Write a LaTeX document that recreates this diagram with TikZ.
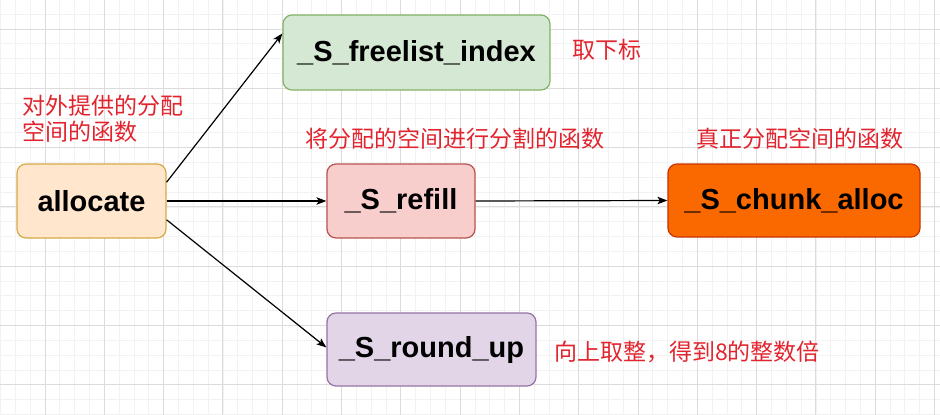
\documentclass[tikz,border=0pt]{standalone}
\usepackage{fontspec}
\setmainfont{Liberation Sans}
\newfontfamily\cjk{Noto Sans CJK SC}
\usepackage{tikz}
\usetikzlibrary{shapes,positioning,calc}
\usetikzlibrary{arrows.meta}
\definecolor{notered}{RGB}{226,36,46}
\definecolor{gridmajor}{RGB}{220,220,220}
\definecolor{gridminor}{RGB}{242,242,242}

\begin{document}
\begin{tikzpicture}[x=1pt, y=-1pt, >={Stealth[length=10pt, width=7.5pt, inset=2.5pt]},
	func/.style={rectangle, rounded corners=9pt, draw, line width=1.2pt, align=center, font=\bfseries\fontsize{29}{34}\selectfont},
	note/.style={text=notered, inner sep=0pt, font=\cjk\fontsize{23}{26}\selectfont}]
				% Background grid

				\useasboundingbox (0,0) rectangle (940,415);
				\fill[white] (0,0) rectangle (940,415);
				\foreach \i in {-3,...,60} \draw[gridminor, line width=0.8pt] ({45+14.825*\i},0) -- ++(0,415);
				\foreach \i in {-2,...,26} \draw[gridminor, line width=0.8pt] (0,{29+14.825*\i}) -- ++(940,0);
				\foreach \i in {0,...,15} \draw[gridmajor, line width=0.9pt] ({45+59.3*\i},0) -- ++(0,415);
				\foreach \i in {0,...,6} \draw[gridmajor, line width=0.9pt] (0,{29+59.3*\i}) -- ++(940,0);

				% Nodes

				\node [func, fill={rgb,255:red,255;green,230;blue,204}, draw={rgb,255:red,214;green,170;blue,70}, minimum width=149pt, minimum height=74pt] (alloc) at (91.5,201) {allocate};
				\node [func, fill={rgb,255:red,213;green,232;blue,212}, draw={rgb,255:red,130;green,179;blue,102}, minimum width=267pt, minimum height=75pt] (idx) at (416.5,52.5) {\_S\_freelist\_index};
				\node [func, fill={rgb,255:red,248;green,206;blue,204}, draw={rgb,255:red,184;green,84;blue,80}, minimum width=148pt, minimum height=74pt] (refill) at (401,201) {\_S\_refill};
				\node [func, fill={rgb,255:red,250;green,104;blue,0}, draw={rgb,255:red,199;green,53;blue,0}, minimum width=252pt, minimum height=73pt] (chunk) at (794,200.5) {\_S\_chunk\_alloc};
				\node [func, fill={rgb,255:red,225;green,213;blue,231}, draw={rgb,255:red,150;green,115;blue,166}, minimum width=209pt, minimum height=73pt] (round) at (431.5,349.5) {\_S\_round\_up};

				% Notes

				\node [note, anchor=west, align=left] (t0) at (22,118.5) {对外提供的分配\\空间的函数};
				\node [note, anchor=west] (t1) at (572,50) {取下标};
				\node [note] (t2) at (455,139) {将分配的空间进行分割的函数};
				\node [note] (t3) at (800,138.5) {真正分配空间的函数};
				\node [note, anchor=west] (t4) at (554,352) {向上取整，得到8的整数倍};

				% Arrows

				\draw[->, line width=1.2pt] ($ (alloc.north east)!0.25!(alloc.south east) $) -- ($ (idx.north west)!0.25!(idx.south west) $);
				\draw[->, line width=1.2pt] (alloc.east) -- (refill.west);
				\draw[->, line width=1.2pt] ($ (alloc.north east)!0.75!(alloc.south east) $) -- ($ (round.west) +(0,-2) $);
				\draw[->, line width=1.2pt] (refill.east) -- (chunk.west);
			\end{tikzpicture}
\end{document}
